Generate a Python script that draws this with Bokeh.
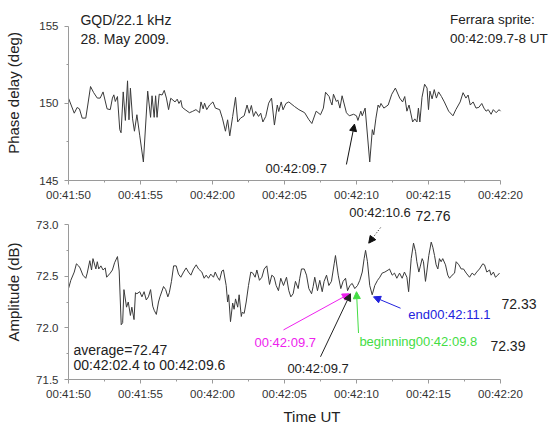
from bokeh.plotting import figure
from bokeh.layouts import column
from bokeh.models import FixedTicker, Label, Arrow, NormalHead, NumeralTickFormatter
from bokeh.embed import file_html
from bokeh.resources import INLINE

# x in seconds after 00:41:50 UT
tick_secs = [0, 5, 10, 15, 20, 25, 30]
tick_labels = ["00:41:50", "00:41:55", "00:42:00", "00:42:05", "00:42:10", "00:42:15", "00:42:20"]

phase_t = [0.0, 0.4, 0.6, 0.76, 0.95, 1.2, 1.34, 1.53, 1.75, 2.0, 2.2, 2.4, 2.68, 2.9, 3.05, 3.15, 3.25, 3.4,
           3.56, 3.65, 3.8, 3.95, 4.1, 4.2, 4.3, 4.45, 4.58, 4.75, 4.95, 5.2, 5.5, 5.7, 5.8, 5.95, 6.05, 6.15,
           6.3, 6.5, 6.65, 6.8, 6.95, 7.1, 7.4, 7.55, 7.67, 7.8, 7.9, 8.1, 8.4, 8.6, 8.85, 9.1, 9.2, 9.35, 9.45,
           9.6, 9.8, 10.03, 10.2, 10.5, 10.7, 10.9, 11.05, 11.2, 11.4, 11.6, 11.75, 11.95, 12.2, 12.4, 12.55,
           12.7, 12.85, 13.0, 13.2, 13.35, 13.5, 13.7, 13.9, 14.1, 14.3, 14.5, 14.6, 14.77, 14.9, 15.1, 15.3,
           15.7, 16.0, 16.4, 16.7, 16.9, 17.2, 17.5, 17.7, 17.85, 18.1, 18.2, 18.3, 18.4, 18.6, 18.7, 18.85,
           19.0, 19.3, 19.5, 19.8, 20.0, 20.1, 20.3, 20.4, 20.6, 20.92, 21.1, 21.2, 21.35, 21.5, 21.6, 21.7,
           21.9, 22.2, 22.45, 22.7, 23.0, 23.2, 23.35, 23.5, 23.65, 23.9, 24.05, 24.2, 24.3, 24.4, 24.55,
           24.73, 24.9, 25.0, 25.1, 25.25, 25.4, 25.55, 25.7, 25.9, 26.1, 26.4, 26.7, 26.9, 27.2, 27.4, 27.6,
           27.75, 27.9, 28.1, 28.3, 28.5, 28.7, 28.85, 29.0, 29.15, 29.35, 29.5, 29.7, 29.9, 30.0]
phase_deg = [150.34, 149.37, 149.74, 149.65, 149.05, 149.05, 149.9, 151.1, 150.7, 150.35, 150.35, 150.75,
             149.65, 149.6, 150.35, 150.56, 150.13, 150.45, 148.3, 148.1, 150.75, 148.9, 151.47, 148.94,
             150.99, 149.0, 148.2, 149.27, 147.9, 146.2, 150.8, 149.1, 150.5, 149.1, 150.5, 149.1, 150.6,
             150.55, 150.85, 150.35, 149.6, 150.34, 150.1, 150.28, 150.0, 150.2, 149.75, 149.6, 149.4,
             149.48, 149.6, 149.4, 150.1, 149.65, 150.02, 149.6, 149.9, 150.1, 149.7, 149.6, 149.0, 148.2,
             148.94, 147.9, 149.16, 150.4, 148.8, 149.05, 149.2, 149.9, 149.37, 149.87, 149.16, 149.48,
             149.16, 149.37, 148.8, 149.16, 150.02, 150.35, 148.6, 149.9, 149.48, 150.1, 149.59, 150.0,
             150.1, 149.8, 149.6, 149.4, 148.94, 148.7, 149.5, 149.27, 149.7, 150.73, 150.45, 150.13,
             149.9, 150.6, 150.13, 150.23, 149.7, 150.5, 149.4, 149.2, 149.3, 149.2, 148.9, 149.5, 149.2,
             149.7, 146.2, 148.3, 147.97, 149.05, 149.9, 149.74, 150.0, 149.7, 149.9, 150.6, 151.0, 150.35,
             150.1, 150.45, 149.5, 149.9, 148.8, 149.0, 148.8, 149.7, 148.8, 150.4, 151.25, 151.0, 149.6,
             150.8, 150.3, 150.9, 150.35, 150.75, 150.45, 150.1, 149.5, 149.2, 149.6, 150.1, 150.7, 150.35,
             150.55, 149.9, 150.1, 149.7, 149.75, 150.0, 149.7, 149.5, 149.6, 149.3, 149.6, 149.4, 149.6,
             149.5]

amp_t = [0.0, 0.16, 0.4, 0.55, 0.7, 0.8, 1.0, 1.2, 1.3, 1.48, 1.6, 1.7, 1.9, 2.0, 2.1, 2.25, 2.4, 2.55,
         2.65, 2.9, 3.05, 3.2, 3.4, 3.52, 3.66, 3.76, 3.85, 4.03, 4.15, 4.3, 4.4, 4.55, 4.65, 4.75, 4.95,
         5.1, 5.25, 5.4, 5.55, 5.7, 5.85, 5.95, 6.1, 6.25, 6.35, 6.6, 6.75, 6.9, 7.0, 7.15, 7.3, 7.48, 7.64,
         7.8, 7.99, 8.17, 8.33, 8.5, 8.68, 8.87, 9.03, 9.26, 9.42, 9.56, 9.72, 9.88, 10.07, 10.19, 10.35,
         10.49, 10.65, 10.76, 10.95, 11.05, 11.12, 11.25, 11.4, 11.5, 11.6, 11.75, 11.85, 12.0, 12.06,
         12.2, 12.34, 12.5, 12.66, 12.8, 12.96, 13.08, 13.26, 13.43, 13.59, 13.77, 13.96, 14.12, 14.28,
         14.42, 14.58, 14.74, 14.93, 15.14, 15.3, 15.44, 15.6, 15.76, 15.95, 16.06, 16.18, 16.37, 16.53,
         16.69, 16.88, 16.99, 17.1, 17.29, 17.45, 17.62, 17.75, 17.92, 18.08, 18.26, 18.45, 18.54, 18.73,
         18.91, 19.07, 19.24, 19.38, 19.54, 19.7, 19.88, 20.07, 20.23, 20.4, 20.53, 20.63, 20.76, 20.92,
         21.09, 21.27, 21.46, 21.62, 21.78, 21.97, 22.2, 22.29, 22.48, 22.64, 22.8, 22.99, 23.17, 23.33,
         23.5, 23.62, 23.8, 23.96, 24.1, 24.19, 24.33, 24.42, 24.56, 24.65, 24.79, 24.88, 25.02, 25.19,
         25.3, 25.42, 25.53, 25.65, 25.76, 25.88, 25.99, 26.18, 26.34, 26.46, 26.64, 26.81, 26.92, 27.11,
         27.27, 27.43, 27.62, 27.85, 28.03, 28.19, 28.35, 28.54, 28.77, 28.89, 29.05, 29.24, 29.35, 29.51,
         29.65, 29.81, 29.93]
amp_db = [72.38, 72.46, 72.54, 72.62, 72.6, 72.58, 72.51, 72.48, 72.53, 72.65, 72.56, 72.67, 72.57, 72.64,
          72.57, 72.6, 72.56, 72.58, 72.49, 72.53, 72.56, 72.63, 72.69, 72.55, 72.03, 72.05, 72.37, 72.2,
          72.25, 72.12, 72.2, 72.08, 72.34, 72.33, 72.35, 72.3, 72.35, 72.27, 72.3, 72.37, 72.21, 72.17,
          72.13, 72.25, 72.3, 72.4, 72.37, 72.3, 72.34, 72.45, 72.6, 72.6, 72.52, 72.49, 72.54, 72.58,
          72.54, 72.51, 72.57, 72.61, 72.57, 72.54, 72.48, 72.51, 72.48, 72.52, 72.49, 72.54, 72.49, 72.46,
          72.55, 72.56, 72.41, 72.25, 72.32, 72.06, 72.24, 72.18, 72.28, 72.2, 72.32, 72.11, 72.15, 72.14,
          72.25, 72.41, 72.54, 72.53, 72.49, 72.56, 72.46, 72.49, 72.57, 72.6, 72.42, 72.51, 72.49, 72.41,
          72.36, 72.48, 72.41, 72.49, 72.36, 72.3, 72.33, 72.45, 72.38, 72.48, 72.57, 72.57, 72.51, 72.38,
          72.33, 72.4, 72.49, 72.36, 72.46, 72.35, 72.45, 72.51, 72.41, 72.45, 72.62, 72.7, 72.51, 72.38,
          72.45, 72.48, 72.36, 72.41, 72.43, 72.38, 72.41, 72.46, 72.54, 72.67, 72.75, 72.64, 72.41, 72.32,
          72.41, 72.46, 72.49, 72.53, 72.54, 72.56, 72.57, 72.51, 72.53, 72.48, 72.53, 72.48, 72.54, 72.49,
          72.35, 72.67, 72.82, 72.74, 72.64, 72.54, 72.59, 72.67, 72.64, 72.45, 72.54, 72.7, 72.83, 72.78,
          72.7, 72.61, 72.57, 72.67, 72.64, 72.67, 72.61, 72.51, 72.48, 72.51, 72.53, 72.64, 72.61, 72.57,
          72.57, 72.53, 72.49, 72.53, 72.51, 72.54, 72.57, 72.62, 72.61, 72.54, 72.56, 72.51, 72.54, 72.49,
          72.51, 72.53]

FONT = "Liberation Sans"
TXT = "#222222"
AX = "#9a9a9a"
LINE = "#3a3a3a"


def style(p, yticks, yminor, ylabel, ystand, xlabel=None):
    p.outline_line_color = None
    p.xgrid.visible = False
    p.ygrid.visible = False
    p.xaxis.ticker = FixedTicker(ticks=tick_secs, minor_ticks=[t + 2.5 for t in tick_secs[:-1]])
    p.xaxis.major_label_overrides = {t: l for t, l in zip(tick_secs, tick_labels)}
    p.xaxis.bounds = (tick_secs[0], tick_secs[-1])
    p.yaxis.ticker = FixedTicker(ticks=yticks, minor_ticks=yminor)
    p.yaxis.bounds = (yticks[0], yticks[-1])
    for ax in (p.xaxis[0], p.yaxis[0]):
        ax.axis_line_color = AX
        ax.major_tick_line_color = AX
        ax.minor_tick_line_color = AX
        ax.major_tick_in = 0
        ax.major_tick_out = 4
        ax.minor_tick_in = 0
        ax.minor_tick_out = 2
        ax.major_label_text_font = FONT
        ax.major_label_text_font_size = "11.5px"
        ax.major_label_text_color = "#333333"
        ax.axis_label_text_font = FONT
        ax.axis_label_text_font_size = "15px"
        ax.axis_label_text_font_style = "normal"
        ax.axis_label_text_color = TXT
    p.xaxis.major_label_standoff = 4
    p.yaxis.major_label_standoff = 6
    p.yaxis.axis_label = ylabel
    p.yaxis.axis_label_standoff = ystand
    if xlabel:
        p.xaxis.axis_label = xlabel
        p.xaxis.axis_label_standoff = 5


def lab(p, x, y, text, color=TXT, size="14px"):
    p.add_layout(Label(x=x, y=y, text=text, text_font=FONT, text_font_size=size,
                       text_color=color, text_baseline="middle"))


def arrow(p, x0, y0, x1, y1, color, dash="solid"):
    p.add_layout(Arrow(end=NormalHead(size=7, fill_color=color, line_color=color),
                       x_start=x0, y_start=y0, x_end=x1, y_end=y1,
                       line_color=color, line_width=1, line_dash=dash))


# frames reach to the right edge / upward so that the annotations outside the axes are not clipped;
# the axes themselves are bounded to the data extent
top = figure(frame_width=487, frame_height=175, x_range=(0, 33.82), y_range=(145, 156.36),
             output_backend="svg", toolbar_location=None,
             min_border_left=68, min_border_right=0, min_border_top=5, min_border_bottom=24)
top.line(phase_t, phase_deg, line_color=LINE, line_width=1)
style(top, [145, 150, 155], [147.5, 152.5], "Phase delay (deg)", 14)
lab(top, 0.83, 155.42, "GQD/22.1 kHz")
lab(top, 0.83, 154.2, "28. May 2009.")
lab(top, 26.5, 155.42, "Ferrara sprite:", size="13.5px")
lab(top, 26.5, 154.2, "00:42:09.7-8 UT", size="13.5px")
lab(top, 13.68, 145.8, "00:42:09.7", size="13px")
arrow(top, 19.3, 146.04, 19.86, 148.66, "#111111")

bot = figure(frame_width=487, frame_height=175, x_range=(0, 33.82), y_range=(71.5, 73.194),
             output_backend="svg", toolbar_location=None,
             min_border_left=68, min_border_right=0, min_border_top=0, min_border_bottom=10)
bot.line(amp_t, amp_db, line_color=LINE, line_width=1)
style(bot, [71.5, 72.0, 72.5, 73.0], [71.75, 72.25, 72.75], "Amplitude (dB)", 11, xlabel="Time UT")
bot.yaxis.formatter = NumeralTickFormatter(format="0.0")
lab(bot, 0.35, 71.79, "average=72.47")
lab(bot, 0.35, 71.64, "00:42:02.4 to 00:42:09.6")
lab(bot, 19.5, 73.12, "00:42:10.6", size="13px")
lab(bot, 24.1, 73.08, "72.76")
arrow(bot, 21.67, 72.97, 20.85, 72.82, "#111111", dash="1 2")
lab(bot, 12.92, 71.86, "00:42:09.7", color="#ee22ee", size="13px")
arrow(bot, 14.93, 71.98, 19.51, 72.33, "#ee22ee")
lab(bot, 15.2, 71.61, "00:42:09.7", size="13px")
arrow(bot, 17.5, 71.72, 19.58, 72.33, "#222222")
lab(bot, 20.2, 71.87, "beginning00:42:09.8", color="#44dd44", size="13px")
arrow(bot, 20.14, 71.95, 20.0, 72.35, "#44dd44")
lab(bot, 29.3, 71.82, "72.39")
lab(bot, 23.6, 72.13, "end00:42:11.1", color="#2222dd", size="13px")
arrow(bot, 23.06, 72.19, 21.18, 72.3, "#2222dd")
lab(bot, 30.07, 72.23, "72.33")

layout = column(top, bot, spacing=0)
open("out.html", "w").write(file_html(layout, INLINE))
